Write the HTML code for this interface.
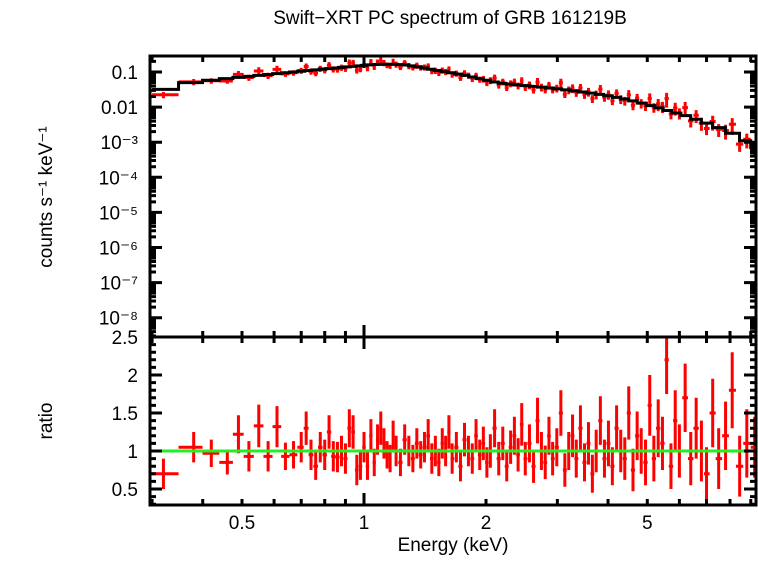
<!DOCTYPE html>
<html><head><meta charset="utf-8"><style>
body{margin:0;background:#fff}
svg text{font-family:"Liberation Sans",sans-serif;font-size:19px;fill:#000}
</style></head><body>
<svg id="c" width="758" height="556" xmlns="http://www.w3.org/2000/svg"></svg>
<script>
const modelEnergies=[0.32,0.38,0.42,0.46,0.49,0.52,0.55,0.58,0.61,0.64,0.67,0.70,0.73,0.76,0.79,0.82,0.85,0.88,0.91,0.94,0.97,1.0,1.03,1.06,1.09,1.12,1.15,1.19,1.23,1.27,1.31,1.36,1.41,1.46,1.52,1.58,1.64,1.71,1.78,1.85,1.93,2.01,2.10,2.19,2.29,2.39,2.50,2.62,2.74,2.87,3.0,3.15,3.3,3.46,3.63,3.81,4.0,4.2,4.4,4.6,4.85,5.1,5.35,5.6,5.9,6.2,6.6,7.0,7.5,8.1,8.8,9.2];
const modelValues=[0.032,0.05,0.058,0.065,0.07,0.075,0.08,0.085,0.09,0.095,0.1,0.105,0.11,0.115,0.12,0.125,0.13,0.135,0.14,0.145,0.15,0.155,0.16,0.163,0.165,0.166,0.166,0.165,0.162,0.158,0.15,0.14,0.13,0.12,0.11,0.102,0.095,0.087,0.08,0.072,0.065,0.058,0.052,0.048,0.045,0.043,0.041,0.039,0.037,0.035,0.033,0.031,0.029,0.027,0.025,0.023,0.021,0.019,0.017,0.015,0.013,0.011,0.0095,0.008,0.0068,0.0057,0.0045,0.0035,0.0026,0.0018,0.0011,0.0007];
const energies=[0.32,0.38,0.42,0.46,0.49,0.52,0.55,0.58,0.61,0.64,0.67,
0.70,0.72,0.74,0.76,0.78,0.80,0.82,0.84,0.86,0.88,
0.90,0.92,0.94,0.96,0.98,1.00,1.02,1.04,1.06,1.08,
1.10,1.12,1.14,1.16,1.18,1.20,1.23,1.26,1.29,1.32,
1.35,1.38,1.41,1.44,1.47,1.50,1.53,1.56,1.59,1.62,
1.65,1.69,1.73,1.77,1.81,1.85,1.89,1.93,1.97,2.01,
2.05,2.10,2.15,2.20,2.25,2.30,2.35,2.40,2.45,2.50,
2.56,2.62,2.68,2.74,2.80,2.86,2.92,2.99,3.06,3.13,
3.20,3.27,3.34,3.42,3.50,3.58,3.66,3.74,3.83,3.92,
4.01,4.10,4.20,4.30,4.40,4.50,4.61,4.72,4.83,4.95,
5.07,5.19,5.32,5.45,5.58,5.72,5.86,6.00,6.2,6.4,
6.6,6.8,7.0,7.25,7.5,7.8,8.1,8.45,8.8,9.2];
const ratios=[0.7,1.05,0.97,0.85,1.22,0.93,1.33,0.93,1.32,0.93,0.95,
1.05,1.3,0.95,0.8,1.05,0.95,1.25,0.93,0.92,1.0,
0.9,1.3,1.25,0.75,0.8,1.05,0.8,1.2,0.85,1.15,
1.3,1.1,0.95,0.9,1.2,1.0,0.85,1.15,1.0,0.9,
1.1,0.95,1.05,1.2,0.9,1.0,0.85,1.1,1.0,1.25,
0.9,1.05,0.8,1.15,1.0,0.9,1.2,0.95,1.1,0.85,
1.0,1.3,0.9,1.1,0.8,1.05,1.2,0.95,1.35,0.9,
1.1,0.8,1.4,1.0,0.85,1.2,0.9,1.05,1.5,0.75,
1.0,1.2,0.9,1.3,0.85,1.1,0.7,1.0,1.4,0.9,
1.1,0.8,1.3,1.0,0.9,1.5,0.75,1.2,1.0,0.85,
1.6,0.9,1.3,1.1,2.2,0.8,1.4,1.0,1.7,0.9,
1.3,1.0,0.7,1.5,0.9,1.2,1.8,0.8,1.1,1.05];
const ratioErr=[0.2,0.2,0.18,0.16,0.25,0.2,0.28,0.2,0.27,0.18,0.18,
0.2,0.22,0.2,0.18,0.2,0.2,0.22,0.2,0.2,0.2,
0.2,0.25,0.22,0.2,0.18,0.2,0.18,0.22,0.18,0.2,
0.22,0.2,0.18,0.18,0.2,0.2,0.18,0.2,0.2,0.18,
0.2,0.18,0.2,0.22,0.2,0.2,0.18,0.2,0.2,0.22,
0.2,0.2,0.2,0.22,0.2,0.2,0.22,0.2,0.22,0.2,
0.22,0.25,0.22,0.22,0.2,0.22,0.25,0.22,0.28,0.22,
0.25,0.22,0.3,0.25,0.22,0.25,0.22,0.25,0.3,0.22,
0.25,0.28,0.25,0.3,0.25,0.28,0.25,0.28,0.32,0.25,
0.3,0.25,0.3,0.28,0.28,0.35,0.28,0.32,0.3,0.3,
0.4,0.3,0.38,0.35,0.45,0.3,0.4,0.35,0.45,0.35,
0.4,0.4,0.35,0.45,0.4,0.45,0.5,0.4,0.45,0.4];
const xTickLabels=["0.5","1","2","5"];
const xTickVals=[0.5,1,2,5];
const yTopLabels=["0.1","0.01","10⁻³","10⁻⁴","10⁻⁵","10⁻⁶","10⁻⁷","10⁻⁸"];
const yTopVals=[-1,-2,-3,-4,-5,-6,-7,-8];
const yBotLabels=["0.5","1","1.5","2","2.5"];
const yBotVals=[0.5,1,1.5,2,2.5];

const L=150,R=756,T=56,M=337,B=505;
const X=e=>364+Math.log10(e)*405.3;
const YT=v=>72+(-1-Math.log10(v))*35.1;
const YB=r=>337+(2.5-r)*76;
const svg=document.getElementById('c');
const NS='http://www.w3.org/2000/svg';
function el(tag,attrs,parent){const e=document.createElementNS(NS,tag);for(const k in attrs)e.setAttribute(k,attrs[k]);(parent||svg).appendChild(e);return e;}
function txt(s,x,y,anchor,name){const t=el('text',{x:x,y:y,'text-anchor':anchor||'middle'});t.textContent=s;return t;}
function edgesOf(arr){const ed=[];for(let i=0;i<=arr.length;i++){if(i===0)ed.push(0.3);else if(i===arr.length)ed.push(9.3);else ed.push(Math.sqrt(arr[i-1]*arr[i]));}return ed;}

txt("Swift−XRT PC spectrum of GRB 161219B",450,24,'middle','chart-title');
const yl=txt("counts s⁻¹ keV⁻¹",0,0,'middle','y-axis-title-top');yl.setAttribute('transform','translate(52,197) rotate(-90)');
const yr=txt("ratio",0,0,'middle','y-axis-title-bottom');yr.setAttribute('transform','translate(52,421) rotate(-90)');
txt("Energy (keV)",453,551,'middle','x-axis-title');

const mEdges=edgesOf(modelEnergies);
function modelAt(e){for(let i=0;i<modelEnergies.length;i++){if(e>=mEdges[i]&&e<mEdges[i+1])return modelValues[i];}return modelValues[modelValues.length-1];}
const n=Math.min(energies.length,ratios.length);
const dEdges=edgesOf(energies.slice(0,n));
const gData=el('g',{});
const gRat=el('g',{});
for(let i=0;i<n;i++){
 const e=energies[i];
 const x0=X(dEdges[i]),x1=X(dEdges[i+1]),xc=X(e);
 const m=modelAt(e),r=ratios[i],er=(ratioErr[i]!==undefined?ratioErr[i]:0.3);
 const c=m*r;
 const y=YT(c),y0=YT(Math.max(c*(1-er),1e-9)),y1=YT(c*(1+er));
 const p=el('path',{d:`M${x0},${y}H${x1}M${xc},${y0}V${y1}`,stroke:'#f00','stroke-width':3,fill:'none'},gData);
 
 const ry=YB(r),ry0=YB(Math.max(r-er,0.29)),ry1=YB(Math.min(r+er,2.5));
 const q=el('path',{d:`M${x0},${ry}H${x1}M${xc},${ry0}V${ry1}`,stroke:'#f00','stroke-width':3,fill:'none'},gRat);
 
}
let d='';
modelEnergies.forEach((e,i)=>{const y=YT(modelValues[i]);d+=(i?'L':'M')+X(mEdges[i])+','+y+'H'+X(mEdges[i+1]);});
const mp=el('path',{d:d,stroke:'#000','stroke-width':3,fill:'none'});

const gl=el('line',{x1:L,x2:R,y1:YB(1),y2:YB(1),stroke:'#2e2','stroke-width':3});


const f1=el('rect',{x:L,y:T,width:R-L,height:M-T,fill:'none',stroke:'#000','stroke-width':3});
const f2=el('rect',{x:L,y:M,width:R-L,height:B-M,fill:'none',stroke:'#000','stroke-width':3});

let tk='';
const minors=[0.3,0.4,0.5,0.6,0.7,0.8,0.9,2,3,4,5,6,7,8,9];
minors.forEach(v=>{const x=X(v);tk+=`M${x},${T}v6M${x},${M}v-6M${x},${M}v6M${x},${B}v-6`;});
[1].forEach(v=>{const x=X(v);tk+=`M${x},${T}v12M${x},${M}v-12M${x},${M}v12M${x},${B}v-12`;});
for(let dec=-9;dec<=-1;dec++){for(let k=1;k<10;k++){const v=k*Math.pow(10,dec);const y=YT(v);if(y<T||y>M)continue;const len=k===1?12:6;tk+=`M${L},${y}h${len}M${R},${y}h-${len}`;}}
for(let r=0.3;r<=2.51;r+=0.1){const y=YB(r);const big=Math.abs(r*2-Math.round(r*2))<0.01;const len=big?12:6;tk+=`M${L},${y}h${len}M${R},${y}h-${len}`;}
const tp=el('path',{d:tk,stroke:'#000','stroke-width':3,fill:'none'});

xTickVals.forEach((v,i)=>txt(xTickLabels[i],X(v),529,'middle','x-tick-label'));
yTopVals.forEach((v,i)=>txt(yTopLabels[i],138,YT(Math.pow(10,v))+7,'end','y-tick-label-top'));
yBotVals.forEach((v,i)=>txt(yBotLabels[i],138,YB(v)+7,'end','y-tick-label-bottom'));
</script>
</body></html>
